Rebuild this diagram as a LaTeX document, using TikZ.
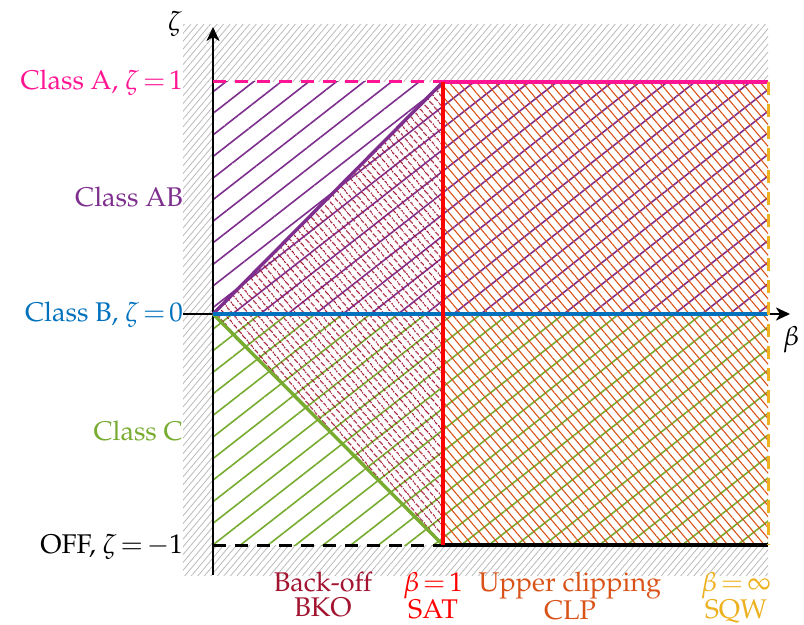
\documentclass[tikz,border=0pt]{standalone}
\usepackage[T1]{fontenc}
\usepackage{mathpazo}
\usetikzlibrary{patterns.meta,arrows.meta}
\definecolor{mpink}{RGB}{255,20,147}
\definecolor{mpurple}{RGB}{126,47,142}
\definecolor{mblue}{RGB}{0,114,189}
\definecolor{mgreen}{RGB}{119,172,48}
\definecolor{mdred}{RGB}{162,20,47}
\definecolor{morange}{RGB}{217,83,25}
\definecolor{myellow}{RGB}{237,177,32}
\definecolor{mred}{RGB}{255,0,0}
\definecolor{mgrey}{RGB}{185,185,185}
\newcommand{\eqs}{\mskip2.5mu{=}\mskip2.5mu}
\begin{document}
\begin{tikzpicture}[x=1bp,y=-1bp,
  lbl/.style={font=\fontsize{27bp}{25bp}\selectfont, inner sep=0pt},
  bottomlbl/.style={lbl, align=center, anchor=north},
  axisline/.style={line width=2.6bp, black, -{Stealth[length=14bp,width=13bp,inset=4bp]}},
  curve/.style={line width=3.4bp},
  dashline/.style={line width=3bp, dash pattern=on 13bp off 9bp},
  hatchwide/.style={pattern={Lines[angle=38,distance=17bp,line width=1.6bp]}},
  hatchfine/.style={pattern={Lines[angle=130,distance=6bp,line width=1.1bp]}},
  hatchmid/.style={pattern={Lines[angle=130,distance=7bp,line width=1.1bp]}},
  hatchgrey/.style={pattern={Lines[angle=50,distance=5bp,line width=0.8bp]}, pattern color=mgrey}]
\useasboundingbox (0,0) rectangle (804,625);
% key coordinates
\coordinate (O) at (213,314);
\coordinate (A0) at (213,82);
\coordinate (A1) at (443,82);
\coordinate (Ainf) at (768,82);
\coordinate (Binf) at (768,314);
\coordinate (C0) at (213,545);
\coordinate (C1) at (443,545);
\coordinate (Cinf) at (768,545);
\coordinate (ybot) at (213,575);
\coordinate (ytop) at (213,27);
\coordinate (xleft) at (183,314);
\coordinate (xright) at (790,314);
% background
\fill[hatchgrey] (183,25) rectangle (768,575);
\fill[white] (A0) rectangle (Cinf);
% regions
\fill[hatchwide, pattern color=mpurple] (O) rectangle (Ainf);
\fill[hatchwide, pattern color=mgreen] (O) rectangle (Cinf);
\fill[hatchfine, pattern color=mdred] (O) -- (A1) -- (C1) -- cycle;
\fill[hatchmid, pattern color=morange] (A1) rectangle (Cinf);
% axes
\draw[axisline] (ybot) -- (ytop);
\draw[axisline] (xleft) -- (xright);
% boundary lines
\draw[curve, mpurple] (O) -- (A1);
\draw[curve, mgreen] (O) -- (C1);
\draw[dashline, mpink] (A0) -- (A1);
\draw[curve, mpink] (A1) -- (Ainf);
\draw[dashline, black] (C0) -- (C1);
\draw[curve, black] (C1) -- (Cinf);
\draw[curve, mblue] (O) -- (Binf);
\draw[curve, mred] (A1) -- (C1);
\draw[dashline, myellow] (Ainf) -- (Cinf);
% axis labels
\node[lbl] (zl) at (175,24) {$\zeta$};
\node[lbl] (bl) at (791,340) {$\beta$};
% left labels
\node[lbl, anchor=base east, text=mpink] (la) at (183,90) {Class A, $\zeta\eqs1$};
\node[lbl, anchor=base east, text=mpurple] (lab) at (183,207) {Class AB};
\node[lbl, anchor=base east, text=mblue] (lb) at (183,321) {Class B, $\zeta\eqs0$};
\node[lbl, anchor=base east, text=mgreen] (lc) at (183,440) {Class C};
\node[lbl, anchor=base east, text=black] (loff) at (183,553) {OFF, $\zeta\eqs{-}1$};
% bottom labels
\node[bottomlbl, text=mdred] (bko) at (323,572) {Back-off\\BKO};
\node[bottomlbl, text=mred] (sat) at (433,572) {$\beta\eqs1$\\SAT};
\node[bottomlbl, text=morange] (clp) at (570,572) {Upper clipping\\CLP};
\node[bottomlbl, text=myellow] (sqw) at (736,572) {$\beta\eqs\infty$\\SQW};
\end{tikzpicture}
\end{document}
